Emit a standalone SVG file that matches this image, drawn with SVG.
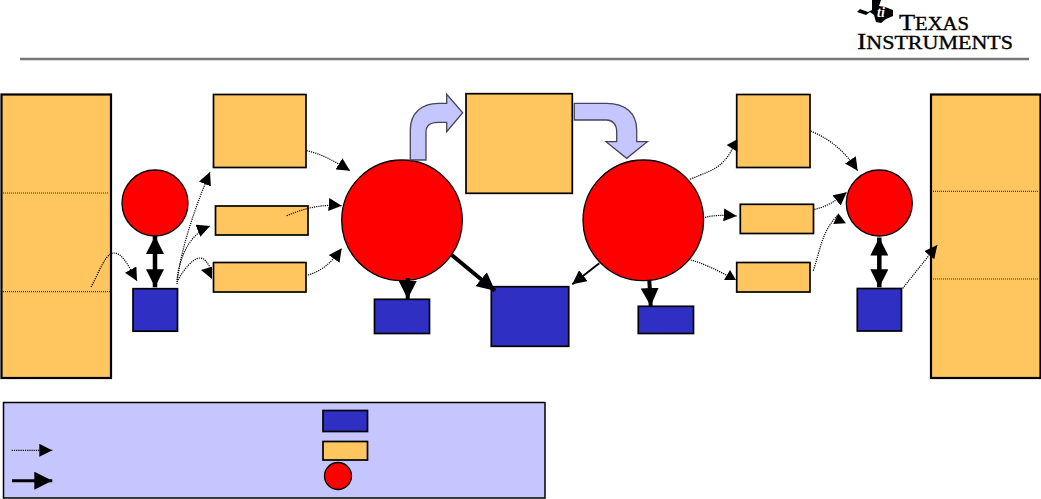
<svg xmlns="http://www.w3.org/2000/svg" width="1041" height="499" viewBox="0 0 1041 499">
<style>
.o{fill:#FFC65F;stroke:#000;stroke-width:1.7}
.t{stroke-width:2.2}
.b{fill:#2F2FC4;stroke:#000;stroke-width:1.7}
.r{fill:#F00;stroke:#000;stroke-width:1.3}
.d{fill:none;stroke:#000;stroke-width:1.2;stroke-dasharray:1.2 1}
.sep{fill:none;stroke:#333;stroke-width:1.2;stroke-dasharray:1 1}
.hd{fill:#000}
.a2{fill:none;stroke:#000;stroke-width:2;marker-end:url(#hm)}
.a4{fill:none;stroke:#000;stroke-width:4;marker-end:url(#hl)}
.a5{fill:none;stroke:#000;stroke-width:4.5;marker-start:url(#hlr);marker-end:url(#hl)}
.dm{marker-end:url(#hs)}
.blk{fill:#C6C6FF;stroke:#44445A;stroke-width:1.3}
.lg{font-family:"Liberation Serif","Times New Roman",serif;fill:#000;stroke:#000;stroke-width:.35}
</style>
<defs>
<marker id="hs" markerUnits="userSpaceOnUse" markerWidth="13" markerHeight="13" viewBox="0 0 13 13" refX="13" refY="6.5" orient="auto"><path d="M0 0L13 6.5L0 13Z"/></marker>
<marker id="hm" markerUnits="userSpaceOnUse" markerWidth="14" markerHeight="14" viewBox="0 0 14 14" refX="14" refY="7" orient="auto"><path d="M0 0L14 7L0 14Z"/></marker>
<marker id="hl" markerUnits="userSpaceOnUse" markerWidth="18" markerHeight="18" viewBox="0 0 18 18" refX="18" refY="9" orient="auto"><path d="M0 0L18 9L0 18Z"/></marker>
<marker id="hlr" markerUnits="userSpaceOnUse" markerWidth="18" markerHeight="18" viewBox="0 0 18 18" refX="18" refY="9" orient="auto-start-reverse"><path d="M0 0L18 9L0 18Z"/></marker>
</defs>
<rect width="1041" height="499" fill="#fff"/>
<g id="header">
<path d="M20 59H1029" stroke="#777" stroke-width="2.4" fill="none"/>
<path d="M872 0H881L879 6L885 7L893 10L893 16L886 19L881 23L876 22L874 15L870 12L866 15L857 12L860 9L868 12L872 10Z" fill="#000"/>
<text x="877" y="17" font-family="Liberation Serif,serif" font-style="italic" font-weight="bold" font-size="14" fill="#fff">ti</text>
<text class="lg" x="899" y="30" font-size="23" textLength="70" lengthAdjust="spacingAndGlyphs">T<tspan font-size="18">EXAS</tspan></text>
<text class="lg" x="857" y="49" font-size="24" textLength="156" lengthAdjust="spacingAndGlyphs">I<tspan font-size="19">NSTRUMENTS</tspan></text>
</g>
<g id="mem-left"><rect class="o t" x="1.5" y="94.5" width="109.5" height="283.5"/><path class="sep" d="M3 193H109M3 291.7H110"/></g>
<g id="cpu-left"><circle class="r" cx="155" cy="203" r="33"/></g>
<g id="io-left"><rect class="b" x="133" y="288.7" width="44.5" height="42.5"/></g>
<g id="buf-a"><rect class="o" x="213.5" y="94.5" width="92.5" height="73"/></g>
<g id="buf-b"><rect class="o" x="215.5" y="206" width="92.5" height="29"/></g>
<g id="buf-c"><rect class="o" x="213.5" y="262.5" width="92.5" height="29.5"/></g>
<g id="proc-1"><circle class="r" cx="402" cy="220.3" r="60.3"/></g>
<g id="shared"><rect class="o" x="466" y="93.7" width="106.3" height="99.6"/></g>
<g id="proc-2"><circle class="r" cx="643.3" cy="220.3" r="60.3"/></g>
<g id="dev-1"><rect class="b" x="374.5" y="299.3" width="55" height="34.2"/></g>
<g id="dev-2"><rect class="b" x="491.3" y="286.7" width="77.4" height="59.6"/></g>
<g id="dev-3"><rect class="b" x="638.3" y="306.3" width="55.2" height="27.2"/></g>
<g id="buf-d"><rect class="o" x="736.7" y="94.5" width="73.3" height="73"/></g>
<g id="buf-e"><rect class="o" x="740.3" y="204.3" width="73.2" height="29.2"/></g>
<g id="buf-f"><rect class="o" x="736.7" y="262.5" width="73.3" height="29.5"/></g>
<g id="cpu-right"><circle class="r" cx="879.3" cy="203" r="33"/></g>
<g id="io-right"><rect class="b" x="857.3" y="288.5" width="44.2" height="42.5"/></g>
<g id="mem-right"><rect class="o t" x="931" y="94.5" width="109.5" height="283.5"/><path class="sep" d="M933 191.3H1039M933 279H1038"/></g>
<g id="connectors">
<path class="blk" d="M410.3 160V130C410.3 113 422 103.3 438.3 103.3H446.7V94.3L462.7 112.7L446.7 131.7V122.3H438.3C431 122.3 426 125 426 131.7V160Z"/>
<path class="blk" d="M574.3 103.3H606.7C625 103.3 636.7 113 636.7 130V141.7H647.3L626.7 158.3L606 141.7H616.7V131.7C616.7 124 612 120 606.7 120H574.3Z"/>
<path class="d dm" d="M91 287C99 273 105 253 114 253C122 253 127 263 137 281"/>
<path class="d dm" d="M177 284C180 250 196 205 210 172"/>
<path class="d dm" d="M177 280C180 255 190 234 210 226"/>
<path class="d" d="M177 282C183 270 193 258 200 258C206 258 208 265 212 270"/>
<polygon class="hd" points="212,266.7 212,279 201,270"/>
<path class="d dm" d="M306.7 150.7C322 154 336 162 350 170.7"/>
<path class="d dm" d="M286.7 215.7C305 208 322 204 341.7 205.7"/>
<path class="d dm" d="M308 275C322 271 332 262 341.7 248.3"/>
<path class="a5" d="M155 236V287.3"/>
<path class="a4" d="M407.7 278V299"/>
<path class="a4" d="M451.7 255L495 290.7"/>
<path class="a2" d="M599.3 263.3L572.3 284.3"/>
<path class="a4" d="M649.3 280L650.7 306"/>
<path class="d" d="M690 179.3C705 173 715 170 722 163C728 157 731 152 733 147"/>
<polygon class="hd" points="737.3,139.3 737.3,151.7 726.7,145"/>
<path class="d dm" d="M705 217.3C715 215 725 215 736.7 216"/>
<path class="d" d="M690.7 260C702 263 715 269 728 276"/>
<polygon class="hd" points="724,280 730,270 736,280"/>
<path class="d dm" d="M810.7 131C832 140 845 152 857.7 170.7"/>
<path class="d dm" d="M814.3 209.3C826 207 836 201 846.7 192.3"/>
<path class="d" d="M813.3 270.7C820 250 822 235 832 222C834 219 836 217 838 215"/>
<polygon class="hd" points="833.3,224 846,223.3 838.3,213.3"/>
<path class="a5" d="M879.3 237.5V287.3"/>
<path class="d dm" d="M902.7 288.3L937.3 245"/>
</g>
<g id="legend">
<rect x="3.5" y="402.5" width="541.5" height="95.5" fill="#C6C6FF" stroke="#000" stroke-width="1.5"/>
<path class="d dm" d="M11.7 450.3H52.3"/>
<path d="M12 480.7H52.3" fill="none" stroke="#000" stroke-width="3" marker-end="url(#hl)"/>
<rect class="b" x="323" y="410.5" width="44.5" height="21"/>
<rect class="o" x="323" y="441.5" width="44.5" height="18.5"/>
<circle class="r" cx="338" cy="476" r="13.5"/>
</g>
</svg>
